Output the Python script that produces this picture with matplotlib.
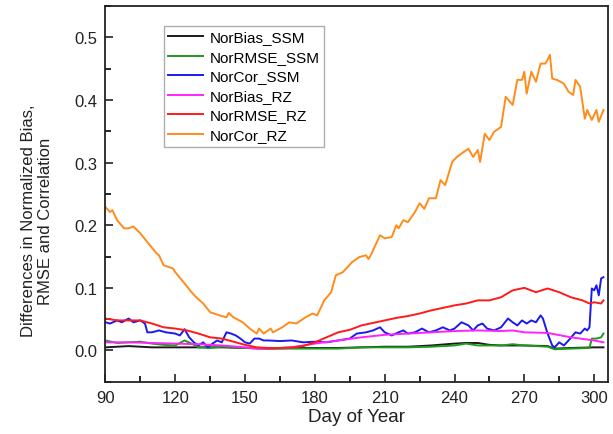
import matplotlib
matplotlib.use("Agg")
import matplotlib.pyplot as plt
from matplotlib.ticker import MultipleLocator

plt.rcParams['font.family'] = ['Liberation Sans', 'DejaVu Sans']

# NorCor_RZ (orange)
days_cor_rz = [90, 92, 93, 95, 98, 100, 102, 105, 108, 112, 113, 115, 119, 120, 124, 127, 129, 132,
               135, 139, 142, 143, 145, 149, 152, 155, 156, 158, 161, 162, 166, 169, 172, 176, 179,
               181, 184, 187, 189, 192, 196, 199, 202, 203, 204, 208, 210, 213, 215, 216, 218, 220,
               223, 225, 227, 229, 232, 234, 236, 239, 241, 244, 246, 248, 250, 251, 253, 255, 257,
               260, 262, 265, 267, 269, 270, 271, 273, 275, 277, 279, 280, 281, 282, 284, 287, 289,
               291, 292, 294, 296, 297, 299, 301, 302, 304]
cor_rz = [0.229, 0.221, 0.224, 0.208, 0.195, 0.195, 0.198, 0.187, 0.173, 0.155, 0.152, 0.136, 0.131,
          0.125, 0.107, 0.093, 0.085, 0.075, 0.061, 0.056, 0.053, 0.060, 0.053, 0.045, 0.035, 0.027,
          0.035, 0.027, 0.035, 0.029, 0.037, 0.045, 0.043, 0.053, 0.059, 0.056, 0.080, 0.093, 0.120,
          0.125, 0.141, 0.149, 0.152, 0.146, 0.152, 0.184, 0.179, 0.181, 0.200, 0.195, 0.208, 0.205,
          0.221, 0.235, 0.226, 0.243, 0.243, 0.272, 0.264, 0.301, 0.309, 0.317, 0.322, 0.309, 0.320,
          0.301, 0.346, 0.336, 0.349, 0.357, 0.405, 0.392, 0.432, 0.432, 0.445, 0.410, 0.445, 0.429,
          0.458, 0.458, 0.464, 0.472, 0.434, 0.432, 0.426, 0.413, 0.408, 0.432, 0.421, 0.370, 0.384,
          0.368, 0.384, 0.365, 0.384]

# NorRMSE_RZ (red)
days_rmse_rz = [90, 95, 100, 105, 110, 115, 120, 125, 130, 135, 140, 145, 150, 155, 160, 165, 170,
                175, 180, 185, 190, 195, 200, 205, 210, 215, 220, 225, 230, 235, 240, 245, 250, 255,
                260, 265, 270, 275, 280, 285, 290, 295, 298, 300, 303, 304]
rmse_rz = [0.051, 0.048, 0.048, 0.048, 0.043, 0.037, 0.035, 0.032, 0.027, 0.021, 0.019, 0.014, 0.009,
           0.005, 0.004, 0.004, 0.005, 0.007, 0.013, 0.021, 0.029, 0.033, 0.040, 0.044, 0.048, 0.052,
           0.055, 0.059, 0.064, 0.068, 0.072, 0.075, 0.080, 0.080, 0.085, 0.096, 0.100, 0.093, 0.099,
           0.093, 0.085, 0.080, 0.075, 0.077, 0.075, 0.080]

# NorCor_SSM (blue)
days_cor_ssm = [90, 92, 95, 97, 100, 102, 105, 107, 108, 110, 113, 116, 120, 122, 124, 126, 128, 130,
                132, 134, 136, 138, 140, 142, 144, 146, 148, 150, 152, 154, 156, 158, 160, 165, 170,
                175, 180, 185, 190, 195, 198, 202, 205, 208, 210, 213, 216, 218, 220, 223, 226, 229,
                232, 235, 238, 240, 243, 246, 248, 250, 252, 254, 257, 260, 263, 265, 267, 269, 271,
                273, 275, 277, 278, 280, 282, 283, 285, 287, 289, 292, 294, 296, 297, 298, 299, 300,
                301, 302, 303, 304]
cor_ssm = [0.045, 0.043, 0.048, 0.045, 0.051, 0.045, 0.048, 0.043, 0.029, 0.029, 0.032, 0.029, 0.027,
           0.024, 0.034, 0.021, 0.013, 0.008, 0.013, 0.005, 0.011, 0.016, 0.013, 0.029, 0.027, 0.024,
           0.019, 0.013, 0.011, 0.019, 0.019, 0.016, 0.016, 0.015, 0.016, 0.013, 0.014, 0.013, 0.016,
           0.019, 0.027, 0.029, 0.032, 0.037, 0.029, 0.024, 0.029, 0.032, 0.027, 0.029, 0.035, 0.029,
           0.032, 0.037, 0.032, 0.035, 0.045, 0.040, 0.032, 0.040, 0.043, 0.035, 0.032, 0.037, 0.051,
           0.045, 0.040, 0.048, 0.043, 0.048, 0.045, 0.056, 0.051, 0.027, 0.008, 0.005, 0.013, 0.008,
           0.016, 0.029, 0.027, 0.035, 0.032, 0.037, 0.099, 0.096, 0.104, 0.088, 0.115, 0.117]

# NorBias_RZ (magenta)
days_bias_rz = [90, 100, 110, 120, 130, 140, 150, 155, 160, 170, 180, 190, 200, 210, 220, 230, 240,
                250, 260, 265, 270, 280, 290, 300, 304]
bias_rz = [0.013, 0.013, 0.012, 0.011, 0.010, 0.008, 0.005, 0.003, 0.003, 0.005, 0.011, 0.016, 0.021,
           0.025, 0.027, 0.029, 0.031, 0.032, 0.031, 0.032, 0.029, 0.028, 0.021, 0.016, 0.013]

# NorBias_SSM (black)
days_bias_ssm = [90, 100, 110, 120, 130, 140, 150, 160, 170, 180, 190, 200, 210, 220, 230, 240, 245,
                 250, 255, 260, 270, 280, 283, 290, 300, 304]
bias_ssm = [0.005, 0.007, 0.005, 0.005, 0.005, 0.005, 0.004, 0.003, 0.004, 0.004, 0.004, 0.005, 0.006,
            0.006, 0.008, 0.011, 0.012, 0.012, 0.009, 0.008, 0.008, 0.007, 0.003, 0.004, 0.005, 0.005]

# NorRMSE_SSM (green)
days_rmse_ssm = [90, 95, 100, 105, 110, 115, 120, 124, 127, 130, 135, 140, 145, 150, 160, 170, 180,
                 190, 200, 210, 220, 230, 240, 245, 250, 260, 265, 270, 280, 283, 290, 298, 299, 301,
                 303, 304]
rmse_ssm = [0.016, 0.012, 0.013, 0.014, 0.011, 0.009, 0.008, 0.016, 0.011, 0.005, 0.004, 0.006, 0.005,
            0.004, 0.003, 0.003, 0.003, 0.003, 0.005, 0.005, 0.005, 0.006, 0.008, 0.011, 0.008, 0.008,
            0.010, 0.008, 0.006, 0.002, 0.003, 0.004, 0.019, 0.019, 0.021, 0.027]

labels = ["NorBias_SSM", "NorRMSE_SSM", "NorCor_SSM", "NorBias_RZ", "NorRMSE_RZ", "NorCor_RZ"]
xticks = [90, 120, 150, 180, 210, 240, 270, 300]
yticks = [0.0, 0.1, 0.2, 0.3, 0.4, 0.5]

fig = plt.figure(figsize=(6.13, 4.35), dpi=100)
ax = fig.add_axes([0.172, 0.12, 0.82, 0.864])

series = [
    (days_bias_ssm, bias_ssm, "#1a1a1a"),
    (days_rmse_ssm, rmse_ssm, "#1e9a1e"),
    (days_cor_ssm, cor_ssm, "#1a1aee"),
    (days_bias_rz, bias_rz, "#ff22ff"),
    (days_rmse_rz, rmse_rz, "#ff1a1a"),
    (days_cor_rz, cor_rz, "#ff8c1a"),
]
for (d, v, c), lab in zip(series, labels):
    ax.plot(d, v, color=c, lw=1.4, label=lab)

ax.set_xlim(90, 306)
ax.set_ylim(-0.05, 0.55)
ax.set_xticks(xticks)
ax.set_xticklabels([str(t) for t in xticks])
ax.set_yticks(yticks)
ax.set_yticklabels([f"{t:.1f}" for t in yticks])
ax.xaxis.set_minor_locator(MultipleLocator(15))
ax.yaxis.set_minor_locator(MultipleLocator(0.05))
ax.tick_params(axis='both', which='major', direction='in', length=6, width=1.2, labelsize=12,
               colors='#222222', pad=6)
ax.tick_params(axis='both', which='minor', direction='in', length=4, width=1.2)
for s in ax.spines.values():
    s.set_linewidth(1.3)
    s.set_color('#222222')

ax.set_xlabel("Day of Year", fontsize=13.5, color='#222222', labelpad=2)
ax.set_ylabel("Differences in Normalized Bias,\nRMSE and Correlation", fontsize=12,
              color='#222222', linespacing=1.15)
ax.yaxis.set_label_coords(-0.105, 0.43)

leg = ax.legend(loc='upper left', bbox_to_anchor=(0.116, 0.947), fontsize=11, frameon=True,
                fancybox=False, edgecolor='#999999', handlelength=2.3, handletextpad=0.4,
                labelspacing=0.36, borderpad=0.3, borderaxespad=0)
leg.get_frame().set_linewidth(1.0)

fig.savefig("out.png", dpi=100)
